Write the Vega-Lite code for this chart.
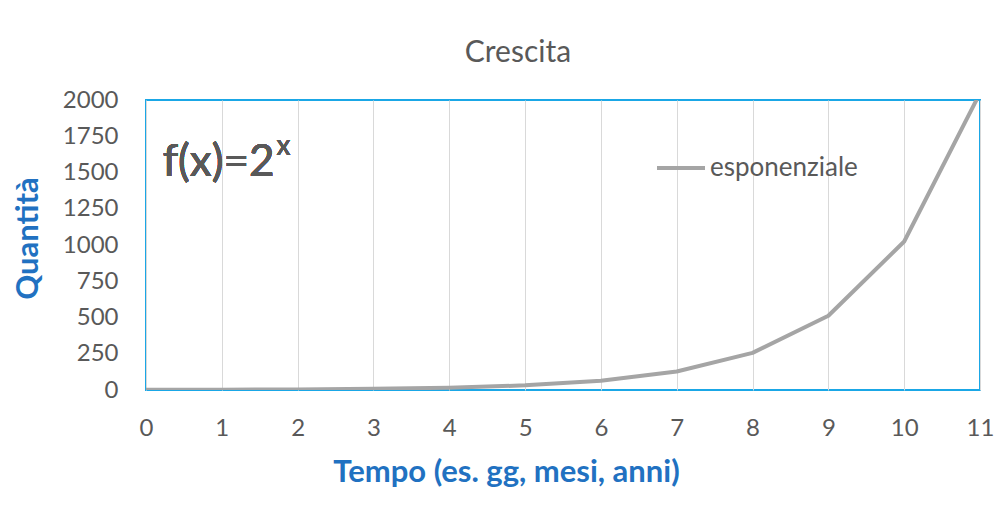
{
  "$schema": "https://vega.github.io/schema/vega-lite/v6.json",
  "width": 834,
  "height": 290,
  "autosize": {"type": "none"},
  "padding": {"left": 146, "top": 100, "right": 24, "bottom": 129},
  "background": "white",
  "title": {
    "text": "Crescita",
    "font": "Lato",
    "fontSize": 30,
    "fontWeight": "normal",
    "color": "#595959",
    "anchor": "middle",
    "frame": "group",
    "dx": -45,
    "offset": 20
  },
  "config": {
    "view": {"stroke": "#1AA7E6", "strokeWidth": 2},
    "font": "Lato",
    "axisX": {
      "grid": true,
      "gridColor": "#D9D9D9",
      "gridWidth": 1,
      "ticks": false,
      "domain": false,
      "labelFont": "Lato",
      "labelFontSize": 24,
      "labelColor": "#595959",
      "labelPadding": 26,
      "labelFlush": false,
      "labelOverlap": false,
      "titleFont": "Lato",
      "titleFontSize": 31,
      "titleFontWeight": "bold",
      "titleColor": "#2171C1",
      "titleX": 360,
      "titleY": 82,
      "titleBaseline": "middle",
      "titleAlign": "center"
    },
    "axisY": {
      "grid": false,
      "ticks": false,
      "domain": false,
      "labelFont": "Lato",
      "labelFontSize": 24,
      "labelColor": "#595959",
      "labelPadding": 28,
      "labelFlush": false,
      "labelOverlap": false,
      "titleFont": "Lato",
      "titleFontSize": 31,
      "titleFontWeight": "bold",
      "titleColor": "#2171C1",
      "titleX": -118,
      "titleY": 138,
      "titleBaseline": "middle",
      "titleAlign": "center",
      "titleAngle": -90
    }
  },
  "data": {
    "values": [
      {"x": 0, "y": 1, "serie": "esponenziale"},
      {"x": 1, "y": 2, "serie": "esponenziale"},
      {"x": 2, "y": 4, "serie": "esponenziale"},
      {"x": 3, "y": 8, "serie": "esponenziale"},
      {"x": 4, "y": 16, "serie": "esponenziale"},
      {"x": 5, "y": 32, "serie": "esponenziale"},
      {"x": 6, "y": 64, "serie": "esponenziale"},
      {"x": 7, "y": 128, "serie": "esponenziale"},
      {"x": 8, "y": 256, "serie": "esponenziale"},
      {"x": 9, "y": 512, "serie": "esponenziale"},
      {"x": 10, "y": 1024, "serie": "esponenziale"},
      {"x": 11, "y": 2048, "serie": "esponenziale"}
    ]
  },
  "layer": [
    {
      "mark": {"type": "line", "strokeWidth": 4, "clip": true, "strokeCap": "round", "strokeJoin": "round"},
      "encoding": {
        "x": {
          "field": "x",
          "type": "quantitative",
          "title": "Tempo (es. gg, mesi, anni)",
          "scale": {"domain": [0, 11], "nice": false, "zero": false},
          "axis": {"values": [0, 1, 2, 3, 4, 5, 6, 7, 8, 9, 10, 11], "format": "d"}
        },
        "y": {
          "field": "y",
          "type": "quantitative",
          "title": "Quantità",
          "scale": {"domain": [0, 2000], "nice": false},
          "axis": {"values": [0, 250, 500, 750, 1000, 1250, 1500, 1750, 2000], "format": "d"}
        },
        "color": {
          "field": "serie",
          "type": "nominal",
          "scale": {"domain": ["esponenziale"], "range": ["#A5A5A5"]},
          "legend": {
            "orient": "none",
            "legendX": 509,
            "legendY": 42,
            "title": null,
            "padding": 0,
            "symbolType": "stroke",
            "symbolSize": 2304,
            "symbolStrokeWidth": 4,
            "labelFont": "Lato",
            "labelFontSize": 26,
            "labelColor": "#595959",
            "labelOffset": 3
          }
        }
      }
    },
    {
      "mark": {"type": "text", "text": "f(x)=2", "font": "Lato", "fontSize": 44, "color": "#595959", "align": "left", "baseline": "alphabetic"},
      "encoding": {
        "x": {"datum": 0.22, "type": "quantitative", "title": "Tempo (es. gg, mesi, anni)", "axis": {"values": [0, 1, 2, 3, 4, 5, 6, 7, 8, 9, 10, 11], "format": "d"}},
        "y": {"datum": 1476, "type": "quantitative", "title": "Quantità", "axis": {"values": [0, 250, 500, 750, 1000, 1250, 1500, 1750, 2000], "format": "d"}}
      }
    },
    {
      "mark": {"type": "text", "text": "x", "font": "Lato", "fontSize": 28, "color": "#595959", "align": "left", "baseline": "alphabetic"},
      "encoding": {
        "x": {"datum": 1.72, "type": "quantitative", "title": "Tempo (es. gg, mesi, anni)", "axis": {"values": [0, 1, 2, 3, 4, 5, 6, 7, 8, 9, 10, 11], "format": "d"}},
        "y": {"datum": 1620, "type": "quantitative", "title": "Quantità", "axis": {"values": [0, 250, 500, 750, 1000, 1250, 1500, 1750, 2000], "format": "d"}}
      }
    }
  ]
}
